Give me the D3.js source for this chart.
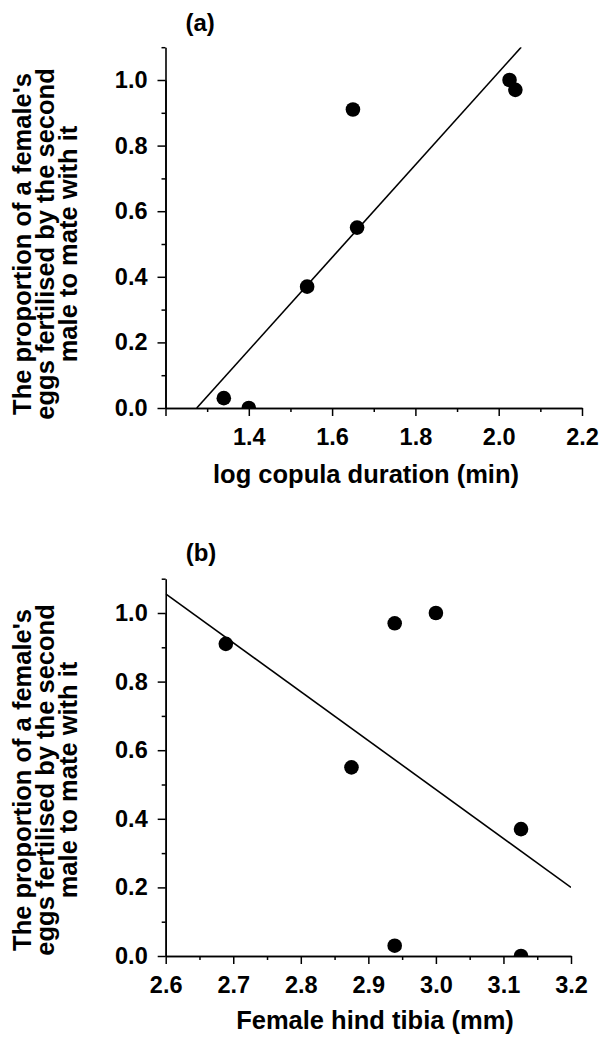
<!DOCTYPE html>
<html>
<head>
<meta charset="utf-8">
<script src="https://cdn.jsdelivr.net/npm/d3@7"></script>
<style>
  body { margin: 0; background: #fff; }
  svg text { font-family: "Liberation Sans", Arial, Helvetica, sans-serif; font-weight: bold; fill: #000; }
</style>
</head>
<body>
<script>
// (a) log copula duration vs proportion of eggs fertilised by 2nd male
const copulaLog = [1.34, 1.40, 1.54, 1.65, 1.66, 2.026, 2.04];
const propA     = [0.03, 0.00, 0.37, 0.91, 0.55, 1.00, 0.97];
const fitA      = [[1.275, 0], [2.054, 1.10]];

// (b) female hind tibia vs the same proportion
const tibia = [2.689, 2.939, 3.00, 2.875, 3.126, 2.939, 3.126];
const propB = [0.91, 0.97, 1.00, 0.55, 0.37, 0.03, 0.00];
const fitB  = [[2.6, 1.056], [3.2, 0.20]];

const yTicks  = [0, 0.2, 0.4, 0.6, 0.8, 1.0];
const yMinor  = [0.1, 0.3, 0.5, 0.7, 0.9, 1.1];
const xTicksA = [1.2, 1.4, 1.6, 1.8, 2.0, 2.2];
const xMinorA = [1.3, 1.5, 1.7, 1.9, 2.1];
const xTicksB = [2.6, 2.7, 2.8, 2.9, 3.0, 3.1, 3.2];
const xMinorB = [2.65, 2.75, 2.85, 2.95, 3.05, 3.15];

const yTitle = ["The proportion of a female's", "eggs fertilised by the second", "male to mate with it"];

const width = 606, height = 1039;
const fmt = d3.format(".1f");

const svg = d3.select("body").append("svg")
    .attr("width", width)
    .attr("height", height);

function panel(o) {
  const x = d3.scaleLinear().domain(o.xDomain).range([o.left, o.right]);
  const y = d3.scaleLinear().domain([0, 1]).range([o.bottom, o.one]);
  const top = y(1.1);
  const g = svg.append("g");

  // minor ticks first, then the labelled ones
  g.append("g")
      .attr("transform", `translate(0,${o.bottom})`)
      .call(d3.axisBottom(x).tickValues(o.xMinor).tickSize(4).tickSizeOuter(0).tickFormat(""));
  g.append("g")
      .attr("transform", `translate(0,${o.bottom})`)
      .call(d3.axisBottom(x).tickValues(o.xTicks).tickSize(8).tickSizeOuter(0).tickPadding(12)
        .tickFormat(d => o.hideFirst && d === o.xTicks[0] ? "" : fmt(d)));

  g.append("g")
      .attr("transform", `translate(${o.left},0)`)
      .call(d3.axisLeft(y.copy().domain([0, 1.1]).range([o.bottom, top]))
        .tickValues(yMinor).tickSize(4).tickSizeOuter(0).tickFormat(""));
  g.append("g")
      .attr("transform", `translate(${o.left},0)`)
      .call(d3.axisLeft(y).tickValues(yTicks).tickSize(8).tickSizeOuter(0).tickPadding(10).tickFormat(fmt));

  g.selectAll(".domain").attr("stroke", "#000").attr("stroke-width", 1.6);
  g.selectAll(".tick line").attr("stroke", "#000").attr("stroke-width", 1.5);
  g.selectAll(".tick text").attr("font-size", 23.5).attr("font-family", null);

  // clip so the points sitting on 0 show as half discs
  svg.append("clipPath").attr("id", o.id)
    .append("rect")
      .attr("x", o.left).attr("y", top)
      .attr("width", o.right - o.left).attr("height", o.bottom - top);

  const plot = g.append("g").attr("clip-path", `url(#${o.id})`);

  plot.append("path")
      .datum(o.fit)
      .attr("fill", "none")
      .attr("stroke", "#000")
      .attr("stroke-width", 1.6)
      .attr("d", d3.line().x(d => x(d[0])).y(d => y(d[1])));

  plot.selectAll("circle")
    .data(o.xs.map((v, i) => [v, o.ys[i]]))
    .join("circle")
      .attr("cx", d => x(d[0]))
      .attr("cy", d => y(d[1]))
      .attr("r", 7.3)
      .attr("fill", "#000");

  g.append("text")
      .attr("x", o.left + 20)
      .attr("y", o.letterY)
      .attr("font-size", 24)
      .text(o.letter);

  g.append("text")
      .attr("x", o.titleX)
      .attr("y", o.titleY)
      .attr("text-anchor", "middle")
      .attr("font-size", 25.5)
      .text(o.xTitle);

  g.append("g")
      .attr("transform", `translate(0,${o.yTitleMid}) rotate(-90)`)
    .selectAll("text")
    .data(yTitle)
    .join("text")
      .attr("x", 0)
      .attr("y", (d, i) => 31 + i * 23)
      .attr("text-anchor", "middle")
      .attr("font-size", 25.5)
      .text(d => d);
}

panel({
  id: "clipA", letter: "(a)", letterY: 31,
  xDomain: [1.2, 2.2], left: 165.5, right: 582,
  bottom: 408, one: 80,
  xTicks: xTicksA, xMinor: xMinorA, hideFirst: true,
  xs: copulaLog, ys: propA, fit: fitA,
  xTitle: "log copula duration (min)", titleX: 366, titleY: 483,
  yTitleMid: 244
});

panel({
  id: "clipB", letter: "(b)", letterY: 561,
  xDomain: [2.6, 3.2], left: 165.7, right: 571,
  bottom: 956, one: 613,
  xTicks: xTicksB, xMinor: xMinorB, hideFirst: false,
  xs: tibia, ys: propB, fit: fitB,
  xTitle: "Female hind tibia (mm)", titleX: 375, titleY: 1029,
  yTitleMid: 780
});
</script>
</body>
</html>
